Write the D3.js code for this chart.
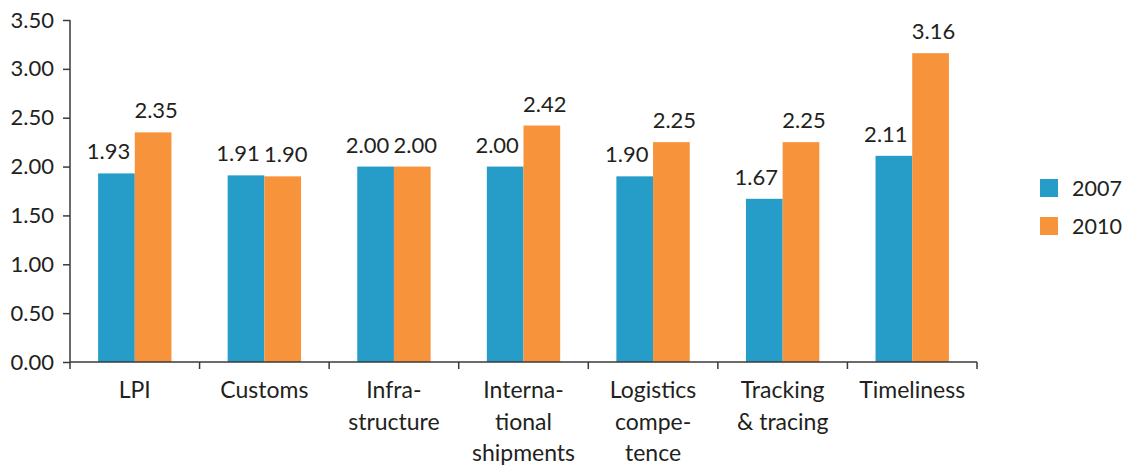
<!DOCTYPE html>
<html>
<head>
<meta charset="utf-8">
<script src="https://cdn.jsdelivr.net/npm/d3@7"></script>
<style>
  html, body { margin: 0; padding: 0; background: #fff; }
  svg text { font-family: Lato, "Open Sans", sans-serif; fill: #231f20; }
</style>
</head>
<body>
<svg id="chart" width="1132" height="466"></svg>
<script>
// Logistics Performance Index scores by dimension
const categories = [
  ["LPI"],
  ["Customs"],
  ["Infra-", "structure"],
  ["Interna-", "tional", "shipments"],
  ["Logistics", "compe-", "tence"],
  ["Tracking", "& tracing"],
  ["Timeliness"]
];
const series = ["2007", "2010"];
const values2007 = [1.93, 1.91, 2.00, 2.00, 1.90, 1.67, 2.11];
const values2010 = [2.35, 1.90, 2.00, 2.42, 2.25, 2.25, 3.16];
const yTicks = [0, 0.5, 1.0, 1.5, 2.0, 2.5, 3.0, 3.5];
const colors = ["#269dc8", "#f7933a"];

const svg = d3.select("#chart");
const margin = { left: 70, right: 155, top: 20, bottom: 104 };
const W = 1132, H = 466;
const x0 = margin.left, x1 = W - margin.right;
const yTop = margin.top, yBot = H - margin.bottom;

const keys = categories.map((c, i) => i);
const x = d3.scaleBand().domain(keys).range([x0, x1]).paddingInner(0).paddingOuter(0);
const xs = d3.scaleBand().domain(series).range([0, x.bandwidth()]).paddingInner(0).paddingOuter(0.766);
const y = d3.scaleLinear().domain([0, 3.5]).range([yBot, yTop]);

const data = categories.map((c, i) => ({ i, vals: [values2007[i], values2010[i]] }));

// bars
const groups = svg.append("g").selectAll("g").data(data).join("g")
  .attr("transform", d => `translate(${x(d.i)},0)`);
groups.selectAll("rect").data(d => d.vals.map((v, k) => ({ v, k })))
  .join("rect")
  .attr("x", d => xs(series[d.k]))
  .attr("width", xs.bandwidth())
  .attr("y", d => y(d.v))
  .attr("height", d => y(0) - y(d.v))
  .attr("fill", d => colors[d.k]);

// value labels
groups.selectAll("text.val").data(d => d.vals.map((v, k) => ({ v, k })))
  .join("text")
  .attr("class", "val")
  .attr("x", d => xs(series[d.k]) + xs.bandwidth() / 2 + (d.k === 0 ? -8 : 3))
  .attr("y", d => y(d.v) - 14)
  .attr("text-anchor", "middle")
  .attr("font-size", 22)
  .text(d => d.v.toFixed(2));

// y axis
const yAxis = d3.axisLeft(y).tickValues(yTicks).tickFormat(d3.format(".2f")).tickSize(7).tickPadding(9);
const gy = svg.append("g").attr("transform", `translate(${x0},0)`).call(yAxis);
gy.select(".domain").attr("stroke", "#3a3a3a").attr("stroke-width", 1.5).attr("d", `M0,${yTop}V${yBot}`);
gy.selectAll(".tick line").attr("stroke", "#3a3a3a").attr("stroke-width", 1.5);
gy.selectAll(".tick text").attr("font-size", 22).attr("font-family", "Lato, sans-serif").attr("fill", "#231f20");

// x axis baseline and category boundary ticks
const gx = svg.append("g");
gx.append("line").attr("x1", x0).attr("x2", x1).attr("y1", yBot).attr("y2", yBot)
  .attr("stroke", "#3a3a3a").attr("stroke-width", 1.5);
const bounds = keys.map(k => x(k)).concat([x1]);
gx.selectAll("line.tk").data(bounds).join("line")
  .attr("class", "tk")
  .attr("x1", d => d).attr("x2", d => d)
  .attr("y1", yBot).attr("y2", yBot + 7)
  .attr("stroke", "#3a3a3a").attr("stroke-width", 1.5);

// category labels
const cl = gx.selectAll("text.cat").data(data).join("text")
  .attr("class", "cat")
  .attr("text-anchor", "middle")
  .attr("font-size", 23)
  .attr("x", d => x(d.i) + x.bandwidth() / 2)
  .attr("y", yBot + 36);
cl.selectAll("tspan").data(d => categories[d.i]).join("tspan")
  .attr("x", function () { return d3.select(this.parentNode).attr("x"); })
  .attr("dy", (d, j) => j === 0 ? 0 : 31.5)
  .text(d => d);

// legend
const lg = svg.append("g").attr("transform", `translate(1040,179)`);
series.forEach((s, k) => {
  const row = lg.append("g").attr("transform", `translate(0,${k * 38})`);
  row.append("rect").attr("width", 18).attr("height", 18).attr("fill", colors[k]);
  row.append("text").attr("x", 32).attr("y", 17).attr("font-size", 21.5).text(s);
});
</script>
</body>
</html>
